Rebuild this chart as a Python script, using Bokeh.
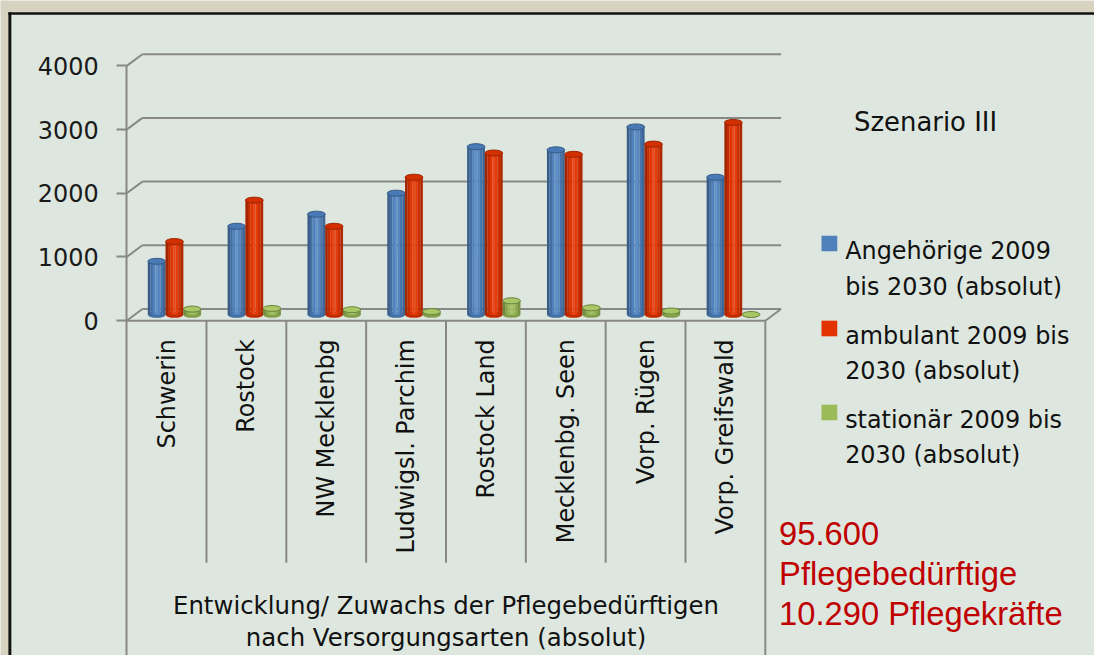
import math
from bokeh.plotting import figure
from bokeh.models import Range1d, LinearAxis, FixedTicker
from bokeh.core.properties import value
from bokeh.embed import file_html
from bokeh.resources import INLINE

# ---------------- data ----------------
categories = ["Schwerin", "Rostock", "NW Mecklenbg", "Ludwigsl. Parchim",
              "Rostock Land", "Mecklenbg. Seen", "Vorp. Rügen", "Vorp. Greifswald"]
angehoerige = [840, 1390, 1580, 1910, 2640, 2590, 2950, 2160]
ambulant = [1150, 1800, 1390, 2160, 2540, 2520, 2680, 3020]
stationaer = [90, 100, 80, 50, 220, 110, 60, 5]
series_labels = [["Angehörige 2009", "bis 2030 (absolut)"],
                 ["ambulant 2009 bis", "2030 (absolut)"],
                 ["stationär 2009 bis", "2030 (absolut)"]]
y_ticks = [0, 1000, 2000, 3000, 4000]
chart_title = "Szenario III"
axis_title = ["Entwicklung/ Zuwachs der Pflegebedürftigen", "nach Versorgungsarten (absolut)"]
note_lines = ["95.600", "Pflegebedürftige", "10.290 Pflegekräfte"]

# ---------------- style / layout ----------------
W, H = 1094, 655            # figure size (fits the 1110x671 window with 8px margin)
RW, RH = 1110, 671          # reference design size (coordinates below are in this space)
SC = min(W / RW, H / RH)    # scale for screen-unit sizes
X0, Y0 = 128, 328           # design px of category 0 left edge / value 0 (front plane)
CAT = 81.0                  # design px per category
K = 261.0 / 4000.0          # design px per unit value
BG = "#DDE7DF"
GRID = "#888888"
FONT = "DejaVu Sans"
colors = ["#4F81BD", "#E23300", "#9BBB59"]
cap_colors = ["#4A7AB5", "#D23000", "#A8C865"]


def fs(px):
    return "%.1fpx" % (px * SC)


def rx(dx):
    return Range1d((0 - X0 - dx) / CAT, (RW - X0 - dx) / CAT)


def ry(dy):
    return Range1d((Y0 - dy - RH) / K, (Y0 - dy) / K)


def X(ix):
    return (ix - X0) / CAT


def Y(iy):
    return (Y0 - iy) / K


def shade(hx, f):
    r, g, b = int(hx[1:3], 16), int(hx[3:5], 16), int(hx[5:7], 16)
    c = lambda v: max(0, min(255, int(round(v * f if f <= 1 else v + (255 - v) * (f - 1)))))
    return "#%02X%02X%02X" % (c(r), c(g), c(b))


p = figure(width=W, height=H, x_range=rx(0), y_range=ry(0),
           output_backend="svg", toolbar_location=None, min_border=0,
           x_axis_type=None, y_axis_type=None,
           background_fill_color=BG, border_fill_color=BG, outline_line_color=None)
p.extra_x_ranges = {"mid": rx(8), "back": rx(16)}
p.extra_y_ranges = {"mid": ry(6), "back": ry(12)}

# frame decoration (beige surround + black border)
p.quad(left=[X(0)], right=[X(RW)], top=[Y(0)], bottom=[Y(12)], fill_color="#D8D2C0", line_color=None)
p.quad(left=[X(0)], right=[X(8)], top=[Y(0)], bottom=[Y(RH)], fill_color="#D8D2C0", line_color=None)
p.quad(left=[X(8)], right=[X(RW)], top=[Y(12)], bottom=[Y(14.5)], fill_color="#111111", line_color=None)
p.quad(left=[X(8)], right=[X(11)], top=[Y(12)], bottom=[Y(RH)], fill_color="#111111", line_color=None)

n = len(categories)
# back wall gridlines
p.segment(x0=[0] * len(y_ticks), y0=y_ticks, x1=[n] * len(y_ticks), y1=y_ticks,
          x_range_name="back", y_range_name="back", line_color=GRID, line_width=2)
# left diagonals front -> back
p.segment(x0=[0] * len(y_ticks), y0=y_ticks,
          x1=[16 / CAT] * len(y_ticks), y1=[t + 12 / K for t in y_ticks],
          line_color=GRID, line_width=2)
# floor front edge and right diagonal
p.segment(x0=[0], y0=[0], x1=[n], y1=[0], line_color=GRID, line_width=2)
p.segment(x0=[n], y0=[0], x1=[n + 16 / CAT], y1=[12 / K], line_color=GRID, line_width=2)
# category separators
sep_x = list(range(1, n))
p.segment(x0=sep_x, y0=[0] * len(sep_x), x1=sep_x, y1=[Y(576)] * len(sep_x), line_color=GRID, line_width=2)
p.segment(x0=[n], y0=[0], x1=[n], y1=[Y(RH)], line_color=GRID, line_width=2)

# y axis (front plane)
ax = LinearAxis(ticker=FixedTicker(ticks=y_ticks), fixed_location=0,
                bounds=(Y(RH), 4000))
ax.axis_line_color = GRID
ax.axis_line_width = 2
ax.major_tick_line_color = GRID
ax.major_tick_line_width = 2
ax.major_tick_out = 10
ax.major_tick_in = 0
ax.minor_tick_line_color = None
ax.major_label_standoff = 18
ax.major_label_text_font = FONT
ax.major_label_text_font_size = fs(24.5)
ax.major_label_text_color = "#1A1A1A"
p.add_layout(ax, "left")

# cylinders (mid-depth plane)
bw = 18 / CAT
strip_f = [0.72, 0.86, 1.0, 1.12, 1.04, 0.9, 0.78]
ns = len(strip_f)
for s, vals in enumerate([angehoerige, ambulant, stationaer]):
    xc = [i + 0.5 + (s - 1) * bw for i in range(n)]
    col = colors[s]
    p.ellipse(x=xc, y=[0] * n, width=bw, height=6, height_units="screen",
              fill_color=shade(col, 0.85), line_color=None,
              x_range_name="mid", y_range_name="mid")
    for k, f in enumerate(strip_f):
        xs = [x - bw / 2 + (k + 0.5) * bw / ns for x in xc]
        p.vbar(x=xs, top=vals, bottom=0, width=bw / ns * 1.04,
               fill_color=shade(col, f), line_color=None,
               x_range_name="mid", y_range_name="mid")
    p.ellipse(x=xc, y=vals, width=bw, height=6, height_units="screen",
              fill_color=cap_colors[s], line_color=shade(col, 0.7), line_width=1,
              x_range_name="mid", y_range_name="mid")

# category labels
p.text(x=[i + 0.5 for i in range(n)], y=[Y(347)] * n, text=categories,
       angle=math.pi / 2, text_align="right", text_baseline="middle",
       text_font=value(FONT), text_font_size=fs(24.5), text_color="#111111")

# axis title
p.text(x=[n / 2, n / 2], y=[Y(620), Y(653)], text=axis_title,
       text_align="center", text_baseline="alphabetic",
       text_font=value(FONT), text_font_size=fs(25), text_color="#111111")

# chart title
p.text(x=[X(866)], y=[Y(124)], text=[chart_title], text_align="left", text_baseline="alphabetic",
       text_font=value(FONT), text_font_size=fs(26.5), text_color="#111111")

# legend
sq_tops = [241, 328, 414]
for s in range(3):
    t = sq_tops[s]
    p.quad(left=[X(833)], right=[X(849)], top=[Y(t)], bottom=[Y(t + 16)],
           fill_color=colors[s], line_color=None)
    p.text(x=[X(857), X(857)], y=[Y(t + 16), Y(t + 52)], text=series_labels[s],
           text_align="left", text_baseline="alphabetic",
           text_font=value(FONT), text_font_size=fs(24.5), text_color="#111111")

# red note
p.text(x=[X(790)] * 3, y=[Y(546), Y(587), Y(628)], text=note_lines,
       text_align="left", text_baseline="alphabetic",
       text_font=value("Liberation Sans"), text_font_size=fs(33.5), text_color="#C00000")

open("out.html", "w").write(file_html(p, INLINE))
